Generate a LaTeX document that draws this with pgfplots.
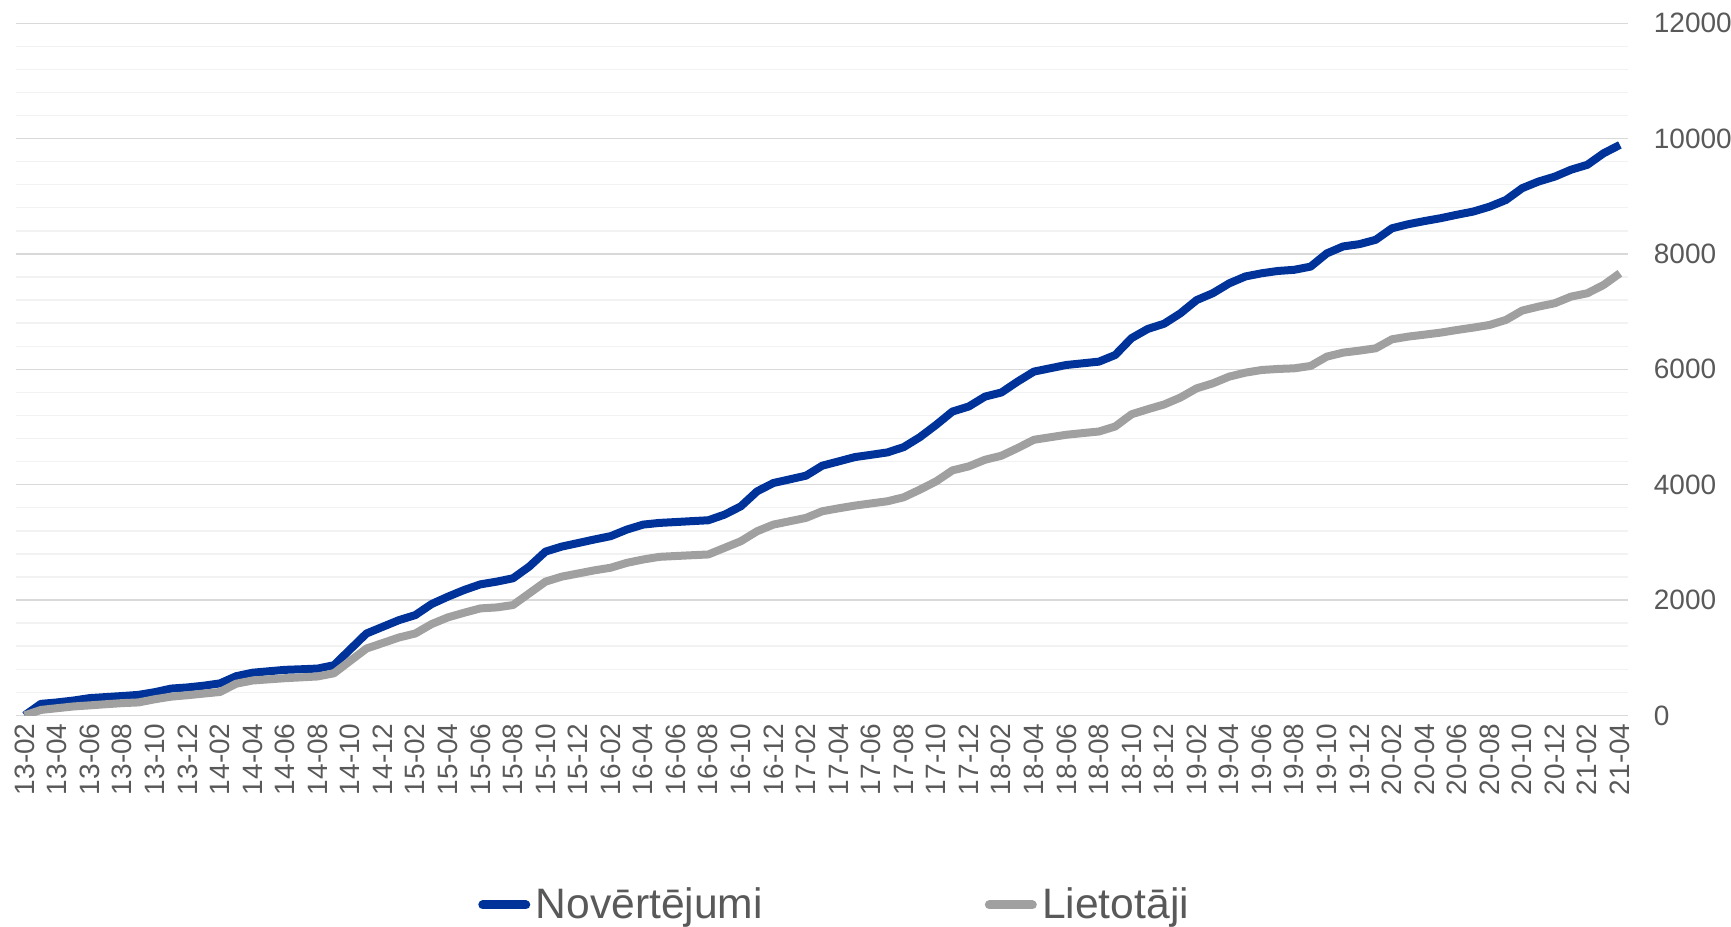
\documentclass[border=0pt]{standalone}
\usepackage{fontspec}
\setmainfont{Liberation Sans}
\usepackage{pgfplots}
\usepackage{pgfplotstable}
\pgfplotsset{compat=1.18}
\definecolor{nblue}{HTML}{003399}
\definecolor{lgray}{HTML}{A0A0A0}
\definecolor{txt}{HTML}{595959}
\definecolor{majg}{HTML}{D9D9D9}
\definecolor{ming}{HTML}{F2F2F2}

\pgfplotstableread{
i nov liet
0 0 0
1 200 95
2 225 125
3 258 155
4 300 174
5 318 194
6 336 213
7 356 225
8 403 280
9 465 325
10 485 350
11 515 378
12 555 406
13 680 550
14 740 605
15 765 625
16 790 645
17 800 660
18 812 675
19 870 730
20 1145 945
21 1420 1159
22 1536 1255
23 1652 1351
24 1739 1420
25 1930 1583
26 2058 1699
27 2174 1780
28 2272 1855
29 2319 1872
30 2377 1913
31 2580 2116
32 2840 2319
33 2927 2406
34 2988 2460
35 3050 2515
36 3107 2560
37 3222 2645
38 3308 2703
39 3337 2749
40 3352 2763
41 3368 2777
42 3383 2790
43 3481 2905
44 3625 3020
45 3885 3193
46 4029 3308
47 4092 3366
48 4156 3424
49 4329 3539
50 4403 3590
51 4478 3637
52 4518 3675
53 4559 3712
54 4651 3781
55 4824 3914
56 5038 4058
57 5268 4248
58 5355 4317
59 5527 4432
60 5597 4501
61 5787 4634
62 5960 4778
63 6018 4822
64 6075 4865
65 6104 4894
66 6133 4922
67 6248 5009
68 6540 5220
69 6700 5308
70 6790 5390
71 6970 5510
72 7200 5670
73 7320 5757
74 7490 5873
75 7610 5942
76 7665 5988
77 7705 6006
78 7725 6017
79 7780 6058
80 8010 6220
81 8130 6289
82 8170 6324
83 8245 6364
84 8445 6520
85 8515 6567
86 8570 6601
87 8620 6636
88 8680 6682
89 8735 6723
90 8820 6769
91 8935 6856
92 9140 7018
93 9255 7087
94 9340 7145
95 9460 7260
96 9545 7318
97 9745 7462
98 9890 7665
}\datatable

\begin{document}
\begin{tikzpicture}
\begin{axis}[
  scale only axis,
  width=805.75pt, height=346.1pt,
  xmin=-0.5, xmax=98.5, ymin=0, ymax=12000,
  axis line style={draw=none},
  tick style={draw=none},
  major tick length=0pt, minor tick length=0pt,
  ytick={0,2000,...,12000},
  minor y tick num=4,
  ymajorgrids, yminorgrids,
  major grid style={majg, line width=0.7pt},
  minor grid style={ming, line width=0.7pt},
  scaled y ticks=false,
  yticklabel pos=right,
  /pgf/number format/assume math mode=true,
  /pgf/number format/1000 sep={},
  ticklabel style={font=\fontsize{14}{16}\selectfont, text=txt},
  yticklabel style={anchor=west, inner xsep=0pt, xshift=12.75pt},
  xtick={0,2,...,98},
  xticklabels={13-02,13-04,13-06,13-08,13-10,13-12,
    14-02,14-04,14-06,14-08,14-10,14-12,
    15-02,15-04,15-06,15-08,15-10,15-12,
    16-02,16-04,16-06,16-08,16-10,16-12,
    17-02,17-04,17-06,17-08,17-10,17-12,
    18-02,18-04,18-06,18-08,18-10,18-12,
    19-02,19-04,19-06,19-08,19-10,19-12,
    20-02,20-04,20-06,20-08,20-10,20-12,
    21-02,21-04},
  xticklabel style={rotate=90, anchor=east, inner xsep=3.85pt, inner ysep=0pt},
  legend columns=2,
  legend style={at={(axis description cs:0.2863,-0.2739)}, anchor=west,
    draw=none, fill=none, inner sep=0pt,
    font=\fontsize{21.3}{24}\selectfont, text=txt,
    nodes={inner sep=0pt},
    /tikz/every odd column/.append style={column sep=2.65pt},
    /tikz/every even column/.append style={column sep=111pt}},
  legend image code/.code={\draw[#1, line width=4.5pt, line cap=round] (0pt,0pt) -- (21.5pt,0pt);},
]
\addplot[nblue, line width=4pt, line join=round] table[x=i, y=nov] {\datatable};
\addlegendentry{Novērtējumi}
\addplot[lgray, line width=4pt, line join=round] table[x=i, y=liet] {\datatable};
\addlegendentry{Lietotāji}
\end{axis}
\pgfresetboundingbox
\path (-8.25pt,-105.8pt) rectangle (857.25pt,357.7pt);
\end{tikzpicture}
\end{document}
